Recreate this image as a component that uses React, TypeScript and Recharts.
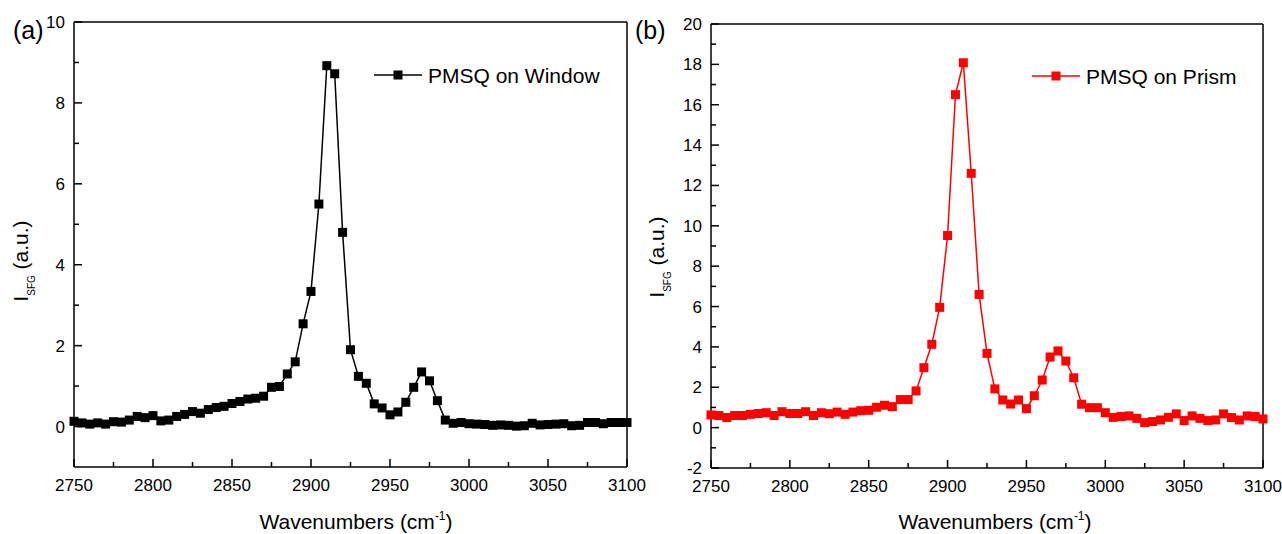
import React from 'react';
import { LineChart, Line, XAxis, YAxis, ReferenceLine } from 'recharts';

const FONT = '"Liberation Sans", Arial, Helvetica, sans-serif';

const wavenumbers = [
  2750, 2755, 2760, 2765, 2770, 2775, 2780, 2785, 2790, 2795,
  2800, 2805, 2810, 2815, 2820, 2825, 2830, 2835, 2840, 2845,
  2850, 2855, 2860, 2865, 2870, 2875, 2880, 2885, 2890, 2895,
  2900, 2905, 2910, 2915, 2920, 2925, 2930, 2935, 2940, 2945,
  2950, 2955, 2960, 2965, 2970, 2975, 2980, 2985, 2990, 2995,
  3000, 3005, 3010, 3015, 3020, 3025, 3030, 3035, 3040, 3045,
  3050, 3055, 3060, 3065, 3070, 3075, 3080, 3085, 3090, 3095,
  3100,
];

const windowValues = [
  0.13, 0.09, 0.06, 0.09, 0.06, 0.12, 0.11, 0.16, 0.25, 0.22,
  0.27, 0.14, 0.16, 0.25, 0.30, 0.37, 0.33, 0.42, 0.47, 0.50,
  0.57, 0.62, 0.68, 0.70, 0.75, 0.97, 0.99, 1.30, 1.60, 2.54,
  3.34, 5.50, 8.92, 8.72, 4.80, 1.90, 1.24, 1.07, 0.56, 0.46,
  0.29, 0.36, 0.60, 0.97, 1.35, 1.13, 0.64, 0.16, 0.08, 0.10,
  0.07, 0.06, 0.05, 0.03, 0.04, 0.03, 0.01, 0.02, 0.08, 0.04,
  0.05, 0.06, 0.07, 0.02, 0.03, 0.10, 0.10, 0.07, 0.10, 0.10,
  0.10,
];

const prismValues = [
  0.63, 0.60, 0.50, 0.60, 0.60, 0.66, 0.70, 0.74, 0.60, 0.79,
  0.70, 0.70, 0.79, 0.60, 0.74, 0.69, 0.77, 0.66, 0.77, 0.84,
  0.86, 1.01, 1.11, 1.04, 1.39, 1.39, 1.82, 2.97, 4.13, 5.96,
  9.52, 16.50, 18.08, 12.60, 6.60, 3.68, 1.92, 1.37, 1.17, 1.37,
  0.94, 1.58, 2.36, 3.50, 3.80, 3.30, 2.47, 1.16, 0.99, 0.99,
  0.74, 0.51, 0.55, 0.58, 0.46, 0.25, 0.30, 0.38, 0.51, 0.68,
  0.35, 0.58, 0.46, 0.35, 0.38, 0.68, 0.50, 0.38, 0.58, 0.55,
  0.43,
];

const xTicks = [
  2750, 2775, 2800, 2825, 2850, 2875, 2900, 2925, 2950, 2975,
  3000, 3025, 3050, 3075, 3100,
];
const windowYTicks = [0, 1, 2, 3, 4, 5, 6, 7, 8, 9, 10];
const prismYTicks = [
  -2, -1, 0, 1, 2, 3, 4, 5, 6, 7, 8, 9, 10, 11, 12, 13, 14, 15, 16, 17, 18, 19, 20,
];

const windowLegend = 'PMSQ on Window';
const prismLegend = 'PMSQ on Prism';

const windowData = wavenumbers.map((w, i) => ({ w, v: windowValues[i] }));
const prismData = wavenumbers.map((w, i) => ({ w, v: prismValues[i] }));

const AXIS = '#000';

function XTick(props: any) {
  const { x, y, payload } = props;
  const v = payload.value;
  const major = v % 50 === 0;
  return (
    <g>
      <line x1={x} x2={x} y1={y} y2={y - (major ? 8 : 5)} stroke={AXIS} strokeWidth={1.5} />
      {major && (
        <text x={x} y={y + 24} textAnchor="middle" fontSize={17} fontFamily={FONT} fill="#000">
          {v}
        </text>
      )}
    </g>
  );
}

function YTick(props: any) {
  const { x, y, payload } = props;
  const v = payload.value;
  const major = Math.abs(v) % 2 === 0;
  return (
    <g>
      <line x1={x} x2={x + (major ? 8 : 5)} y1={y} y2={y} stroke={AXIS} strokeWidth={1.5} />
      {major && (
        <text x={x - 9} y={y + 6} textAnchor="end" fontSize={17} fontFamily={FONT} fill="#000">
          {v}
        </text>
      )}
    </g>
  );
}

const squareDot = (color: string) => (props: any) => {
  const { cx, cy, index } = props;
  if (cx == null || cy == null) return <g key={`d${index}`} />;
  return <rect key={`d${index}`} x={cx - 4.5} y={cy - 4.5} width={9} height={9} fill={color} />;
};

function XTitle({ cx }: { cx: number }) {
  return (
    <text x={cx} y={529} textAnchor="middle" fontSize={21} fontFamily={FONT} fill="#000">
      Wavenumbers (cm
      <tspan fontSize={12} dy={-9}>-1</tspan>
      <tspan dy={9}>)</tspan>
    </text>
  );
}

function YTitle({ x, y }: { x: number; y: number }) {
  return (
    <text
      x={x}
      y={y}
      transform={`rotate(-90, ${x}, ${y})`}
      textAnchor="middle"
      fontSize={21}
      fontFamily={FONT}
      fill="#000"
    >
      I
      <tspan fontSize={10} dy={7}>SFG</tspan>
      <tspan dy={-7}> (a.u.)</tspan>
    </text>
  );
}

function LegendItem({ x, y, color, label }: { x: number; y: number; color: string; label: string }) {
  return (
    <g>
      <line x1={x} x2={x + 48} y1={y} y2={y} stroke={color} strokeWidth={1.5} />
      <rect x={x + 24 - 4.5} y={y - 4.5} width={9} height={9} fill={color} />
      <text x={x + 54} y={y + 7.5} fontSize={21} fontFamily={FONT} fill="#000">
        {label}
      </text>
    </g>
  );
}

export default function App() {
  return (
    <div
      style={{
        position: 'absolute',
        left: 0,
        top: 0,
        width: 1282,
        height: 534,
        background: '#fff',
        overflow: 'hidden',
      }}
    >
      <div style={{ position: 'absolute', left: 0, top: 0 }}>
        <LineChart
          width={660}
          height={534}
          data={windowData}
          margin={{ top: 22, right: 33, bottom: 37, left: 14 }}
        >
          <XAxis
            dataKey="w"
            type="number"
            domain={[2750, 3100]}
            ticks={xTicks}
            interval={0}
            tick={<XTick />}
            tickLine={false}
            tickSize={0}
            tickMargin={0}
            height={30}
            axisLine={{ stroke: AXIS, strokeWidth: 1.5 }}
          />
          <YAxis
            type="number"
            domain={[-1, 10]}
            ticks={windowYTicks}
            interval={0}
            tick={<YTick />}
            tickLine={false}
            tickSize={0}
            tickMargin={0}
            width={60}
            axisLine={{ stroke: AXIS, strokeWidth: 1.5 }}
          />
          <ReferenceLine y={10} stroke={AXIS} strokeWidth={1.5} />
          <ReferenceLine x={3100} stroke={AXIS} strokeWidth={1.5} />
          <Line
            type="linear"
            dataKey="v"
            stroke="#000"
            strokeWidth={1.5}
            dot={squareDot('#000')}
            activeDot={false}
            isAnimationActive={false}
          />
          <text x={13} y={39} fontSize={25} fontFamily={FONT} fill="#000">(a)</text>
          <YTitle x={28} y={261} />
          <XTitle cx={356} />
          <LegendItem x={374} y={75} color="#000" label={windowLegend} />
        </LineChart>
      </div>
      <div style={{ position: 'absolute', left: 620, top: 0 }}>
        <LineChart
          width={662}
          height={534}
          data={prismData}
          margin={{ top: 24, right: 19, bottom: 36, left: 31 }}
        >
          <XAxis
            dataKey="w"
            type="number"
            domain={[2750, 3100]}
            ticks={xTicks}
            interval={0}
            tick={<XTick />}
            tickLine={false}
            tickSize={0}
            tickMargin={0}
            height={30}
            axisLine={{ stroke: AXIS, strokeWidth: 1.5 }}
          />
          <YAxis
            type="number"
            domain={[-2, 20]}
            ticks={prismYTicks}
            interval={0}
            tick={<YTick />}
            tickLine={false}
            tickSize={0}
            tickMargin={0}
            width={60}
            axisLine={{ stroke: AXIS, strokeWidth: 1.5 }}
          />
          <ReferenceLine y={20} stroke={AXIS} strokeWidth={1.5} />
          <ReferenceLine x={3100} stroke={AXIS} strokeWidth={1.5} />
          <Line
            type="linear"
            dataKey="v"
            stroke="#ff0000"
            strokeWidth={1.5}
            dot={squareDot('#ff0000')}
            activeDot={false}
            isAnimationActive={false}
          />
          <text x={15} y={39} fontSize={25} fontFamily={FONT} fill="#000">(b)</text>
          <YTitle x={44} y={257} />
          <XTitle cx={375} />
          <LegendItem x={412} y={76} color="#ff0000" label={prismLegend} />
        </LineChart>
      </div>
    </div>
  );
}
